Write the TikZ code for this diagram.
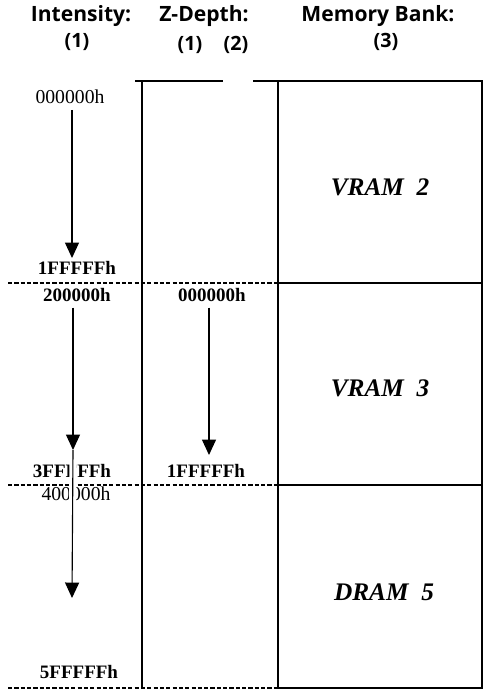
\documentclass[tikz,border=0pt]{standalone}
\usepackage{fontspec}
\setmainfont{Liberation Serif}
\setsansfont{Open Sans}
\usetikzlibrary{arrows.meta,positioning}
\tikzset{
  headtitle/.style={inner sep=0pt, font=\sffamily\bfseries\fontsize{15}{15}\selectfont},
  colnum/.style={inner sep=0pt, font=\sffamily\bfseries\fontsize{14}{14}\selectfont},
  hexlight/.style={inner sep=1pt, font=\fontsize{14}{14}\selectfont},
  hexbold/.style={inner sep=1pt, font=\bfseries\fontsize{13.5}{13.5}\selectfont},
  banklabel/.style={inner sep=0pt, font=\bfseries\itshape\fontsize{18}{18}\selectfont},
  boxline/.style={line width=1.5pt, line cap=rect},
  dashline/.style={line width=1.1pt, dash pattern=on 3pt off 1.5pt},
  addrarrow/.style={-{Triangle[width=10pt,length=11pt]}, line width=0.8pt},
  cutarrow/.style={addrarrow, preaction={draw=white, line width=5pt, -}}
}
\begin{document}
\begin{tikzpicture}[x=0.025cm, y=-0.025cm]
  \useasboundingbox (0,0) rectangle (484,699);
  % headings
  \node[headtitle] (tint) at (81,16) {Intensity:};
  \node[headtitle] (tdep) at (204,16) {Z-Depth:};
  \node[headtitle] (tmem) at (378,16) {Memory Bank:};
  \node[colnum] (n1a) at (77,42) {(1)};
  \node[colnum] (n1b) at (190,45) {(1)};
  \node[colnum] (n2) at (236,45) {(2)};
  \node[colnum] (n3) at (386,42) {(3)};
  % frame
  \draw[boxline] (136,81) -- (222,81);
  \draw[boxline] (254,81) -- (482,81);
  \draw[boxline] (142,81) -- (142,688);
  \draw[boxline] (278,81) -- (278,688);
  \draw[boxline] (482,81) -- (482,688);
  \draw[boxline] (278,283) -- (482,283);
  \draw[boxline] (278,485) -- (482,485);
  \draw[boxline] (278,688) -- (482,688);
  \draw[dashline] (8,283) -- (278,283);
  \draw[dashline] (8,485) -- (278,485);
  \draw[dashline] (8,688) -- (278,688);
  % intensity addresses
  \node[hexlight] (i0s) at (70,97) {000000h};
  \node[hexbold] (i0e) at (77,268) {1FFFFFh};
  \node[hexbold] (i1s) at (77,295) {200000h};
  \node[hexbold] (i1e) at (72,471) {3FFFFFh};
  \node[hexlight] (i2s) at (76,494) {400000h};
  \node[hexbold] (i2e) at (79,672) {5FFFFFh};
  \coordinate (i1tip) at (73,450);
  \draw[addrarrow, shorten <=3pt] (i0s.south -| 72,0) -- (72,258);
  \draw[cutarrow] (i1tip) -- (72,598);
  \draw[addrarrow, shorten <=3pt] (i1s.south -| 73,0) -- (i1tip);
  % z-depth addresses
  \node[hexbold] (z0s) at (212,295) {000000h};
  \node[hexbold] (z0e) at (206,471) {1FFFFFh};
  \draw[addrarrow, shorten <=3pt] (z0s.south -| 209,0) -- (209,455);
  % banks
  \node[banklabel] (vram2) at (380,187) {VRAM\hspace{0.5em}2};
  \node[banklabel] (vram3) at (380,388) {VRAM\hspace{0.5em}3};
  \node[banklabel] (dram5) at (384,592) {DRAM\hspace{0.5em}5};
\end{tikzpicture}
\end{document}
